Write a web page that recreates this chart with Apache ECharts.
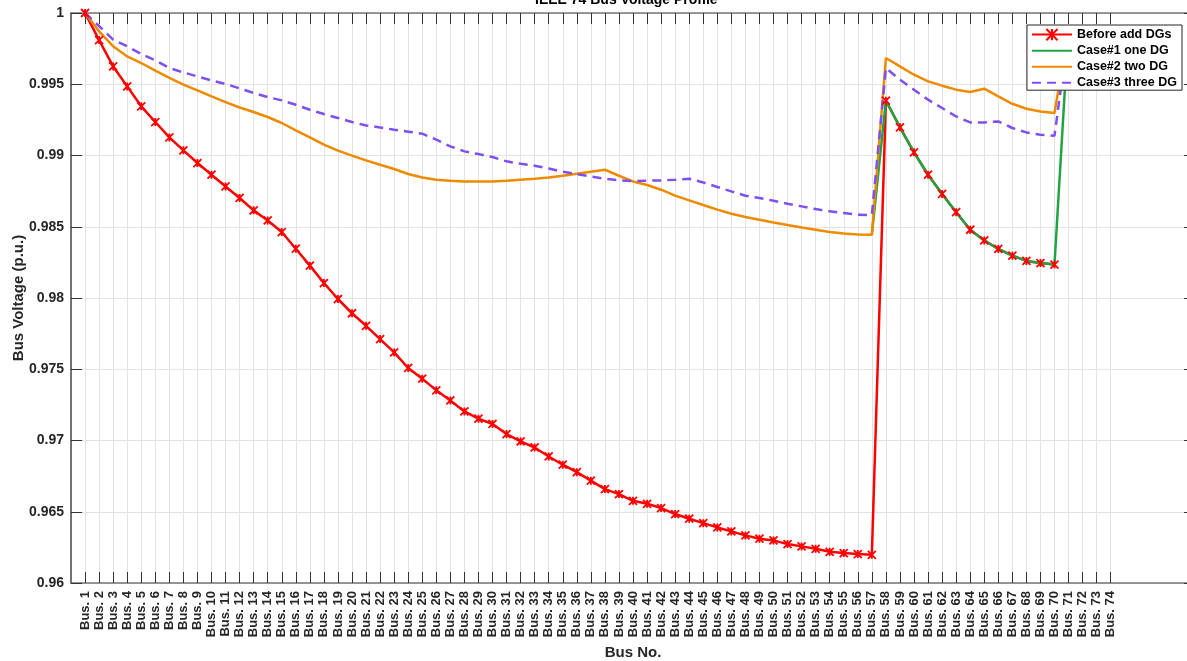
<!DOCTYPE html>
<html>
<head>
<meta charset="utf-8">
<title>IEEE 74 Bus Voltage Profile</title>
<script src="https://cdn.jsdelivr.net/npm/echarts@6/dist/echarts.min.js"></script>
<style>
  html, body { margin: 0; padding: 0; background: #fff; }
  #main { width: 1187px; height: 661px; }
</style>
</head>
<body>
<div id="main"></div>
<script>
// bus labels on the x axis (Bus. 1 ... Bus. 74)
var busLabels = [];
for (var i = 1; i <= 74; i++) {
  busLabels.push('Bus. ' + i);
}
// axis runs from 0 to 80, only buses 1..74 get ticks
var xCategories = [''].concat(busLabels, ['', '', '', '', '', '']);

// Before add DGs, bus 1..70
var beforeDG = [
  1.0000, 0.99810, 0.99625, 0.99485, 0.99345, 0.99235, 0.99127, 0.99036, 0.98947, 0.98865,
  0.98783, 0.98702, 0.98615, 0.98544, 0.98463, 0.98346, 0.98227, 0.98105, 0.97993, 0.97893,
  0.97805, 0.97712, 0.97618, 0.97509, 0.97434, 0.97352, 0.97281, 0.97204, 0.97153, 0.97116,
  0.97045, 0.96994, 0.96951, 0.96888, 0.96830, 0.96778, 0.96718, 0.96659, 0.96624, 0.96577,
  0.96556, 0.96526, 0.96484, 0.96451, 0.96420, 0.96390, 0.96362, 0.96334, 0.96311, 0.96299,
  0.96273, 0.96257, 0.96240, 0.96219, 0.96210, 0.96203, 0.96198, 0.99385, 0.99198, 0.99022,
  0.98865, 0.98730, 0.98602, 0.98479, 0.98404, 0.98344, 0.98297, 0.98260, 0.98245, 0.98235
];
// Case#1, bus 57..71 (under Case#2 before bus 57)
var case1Start = 57;
var case1 = [
  0.98444, 0.99385, 0.99198, 0.99022, 0.98865, 0.98730, 0.98602, 0.98479, 0.98404, 0.98344,
  0.98297, 0.98260, 0.98245, 0.98235, 0.99900
];
// Case#2, bus 1..71
var case2 = [
  1.0000, 0.99871, 0.99766, 0.99695, 0.99649, 0.99595, 0.99544, 0.99497, 0.99457, 0.99415,
  0.99375, 0.99337, 0.99305, 0.99270, 0.99228, 0.99176, 0.99127, 0.99076, 0.99034, 0.98999,
  0.98966, 0.98935, 0.98905, 0.98870, 0.98846, 0.98830, 0.98823, 0.98818, 0.98818, 0.98818,
  0.98822, 0.98830, 0.98837, 0.98846, 0.98858, 0.98872, 0.98886, 0.98900, 0.98858, 0.98818,
  0.98793, 0.98760, 0.98718, 0.98685, 0.98653, 0.98620, 0.98591, 0.98568, 0.98549, 0.98530,
  0.98512, 0.98495, 0.98479, 0.98463, 0.98453, 0.98446, 0.98444, 0.99684, 0.99625, 0.99567,
  0.99520, 0.99490, 0.99462, 0.99446, 0.99469, 0.99415, 0.99363, 0.99328, 0.99309, 0.99298,
  0.99880
];
// Case#3, bus 1..71
var case3 = [
  1.0000, 0.99908, 0.99813, 0.99766, 0.99712, 0.99667, 0.99614, 0.99583, 0.99555, 0.99527,
  0.99502, 0.99471, 0.99439, 0.99410, 0.99387, 0.99356, 0.99321, 0.99291, 0.99263, 0.99235,
  0.99211, 0.99197, 0.99181, 0.99167, 0.99153, 0.99111, 0.99064, 0.99029, 0.99010, 0.98989,
  0.98959, 0.98942, 0.98928, 0.98909, 0.98886, 0.98870, 0.98853, 0.98837, 0.98825, 0.98821,
  0.98823, 0.98825, 0.98830, 0.98837, 0.98811, 0.98779, 0.98748, 0.98718, 0.98702, 0.98683,
  0.98662, 0.98643, 0.98624, 0.98608, 0.98596, 0.98584, 0.98582, 0.99614, 0.99532, 0.99462,
  0.99392, 0.99333, 0.99274, 0.99232, 0.99232, 0.99239, 0.99193, 0.99162, 0.99146, 0.99139,
  0.99870
];

function toPairs(values, startBus) {
  return values.map(function (v, k) {
    return [startBus + k, v];
  });
}

function isBus(index) {
  return index >= 1 && index <= 74;
}

var asterisk = 'path://M0,0L10,10M10,0L0,10M5,0L5,10';
var font = '"Liberation Sans", Arial, sans-serif';
var noSymbol = { opacity: 0 };

var chart = echarts.init(document.getElementById('main'));
var option = {
  animation: false,
  backgroundColor: '#fff',
  title: {
    text: 'IEEE 74 Bus Voltage Profile',
    left: 530,
    top: -12,
    textStyle: { fontFamily: font, fontSize: 14, fontWeight: 'bold', color: '#000' }
  },
  grid: { left: 71, top: 13, width: 1124, height: 570, outerBoundsMode: 'none', containLabel: false },
  legend: {
    orient: 'vertical',
    right: 5,
    top: 25,
    padding: [3, 5, 1, 4],
    itemWidth: 40,
    itemHeight: 14,
    itemGap: 3,
    backgroundColor: '#fff',
    borderColor: '#262626',
    borderWidth: 1,
    borderRadius: 0,
    textStyle: { fontFamily: font, fontSize: 12.5, fontWeight: 'bold', color: '#000' },
    data: [
      { name: 'Before add DGs' },
      { name: 'Case#1 one DG', itemStyle: noSymbol },
      { name: 'Case#2 two DG', itemStyle: noSymbol },
      { name: 'Case#3 three DG', itemStyle: noSymbol }
    ]
  },
  xAxis: [
    {
      type: 'category',
      data: xCategories,
      boundaryGap: false,
      position: 'bottom',
      name: 'Bus No.',
      nameLocation: 'middle',
      nameGap: 60,
      nameTextStyle: { fontFamily: font, fontSize: 15, fontWeight: 'bold', color: '#262626' },
      axisLine: { show: true, onZero: false, lineStyle: { color: '#777', width: 1.5 } },
      axisTick: { show: true, inside: true, length: 11, interval: isBus, lineStyle: { color: '#333' } },
      axisLabel: {
        interval: isBus,
        rotate: 90,
        margin: 8,
        fontFamily: font,
        fontSize: 13,
        fontWeight: 'bold',
        color: '#262626'
      },
      splitLine: { show: true, interval: isBus, lineStyle: { color: '#e3e3e3', width: 1 } }
    },
    {
      type: 'category',
      data: xCategories,
      boundaryGap: false,
      position: 'top',
      axisLine: { show: true, onZero: false, lineStyle: { color: '#777', width: 1.5 } },
      axisTick: { show: true, inside: true, length: 11, interval: isBus, lineStyle: { color: '#333' } },
      axisLabel: { show: false },
      splitLine: { show: false }
    }
  ],
  yAxis: [
    {
      type: 'value',
      min: 0.96,
      max: 1,
      interval: 0.005,
      position: 'left',
      name: 'Bus Voltage (p.u.)',
      nameLocation: 'middle',
      nameGap: 45,
      nameMoveOverlap: false,
      nameTextStyle: { fontFamily: font, fontSize: 15, fontWeight: 'bold', color: '#262626' },
      axisLine: { show: true, onZero: false, lineStyle: { color: '#444', width: 1.5 } },
      axisTick: { show: true, inside: true, length: 11, lineStyle: { color: '#333' } },
      axisLabel: {
        margin: 7,
        fontFamily: font,
        fontSize: 14,
        fontWeight: 'bold',
        color: '#262626',
        formatter: function (v) { return String(+v.toFixed(3)); }
      },
      splitLine: { show: true, lineStyle: { color: '#e3e3e3', width: 1 } }
    },
    {
      type: 'value',
      min: 0.96,
      max: 1,
      interval: 0.005,
      position: 'right',
      axisLine: { show: true, onZero: false, lineStyle: { color: '#444', width: 1.5 } },
      axisTick: { show: true, inside: true, length: 11, lineStyle: { color: '#333' } },
      axisLabel: { show: false },
      splitLine: { show: false }
    }
  ],
  series: [
    {
      name: 'Before add DGs',
      type: 'line',
      data: toPairs(beforeDG, 1),
      symbol: asterisk,
      symbolSize: 8,
      lineStyle: { color: '#ff0000', width: 2.5 },
      itemStyle: { color: '#ff0000', borderColor: '#ff0000', borderWidth: 1.8 }
    },
    {
      name: 'Case#1 one DG',
      type: 'line',
      data: toPairs(case1, case1Start),
      symbol: 'none',
      lineStyle: { color: '#20a443', width: 2.5 },
      itemStyle: { color: '#20a443' }
    },
    {
      name: 'Case#2 two DG',
      type: 'line',
      data: toPairs(case2, 1),
      symbol: 'none',
      lineStyle: { color: '#ee8a00', width: 2.5 },
      itemStyle: { color: '#ee8a00' }
    },
    {
      name: 'Case#3 three DG',
      type: 'line',
      data: toPairs(case3, 1),
      symbol: 'none',
      lineStyle: { color: '#7f4ff0', width: 2.5, type: [9, 6] },
      itemStyle: { color: '#7f4ff0' }
    }
  ]
};
chart.setOption(option);
</script>
</body>
</html>
